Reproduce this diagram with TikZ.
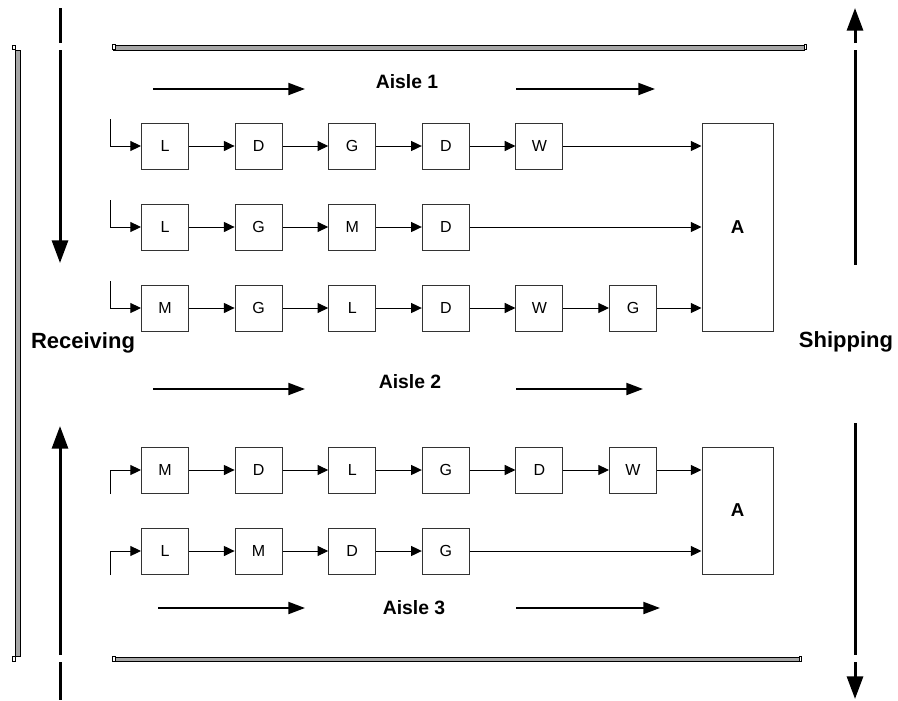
\documentclass[tikz,border=0pt]{standalone}
\usepackage{fontspec}
\setmainfont{Liberation Sans}
\usetikzlibrary{arrows.meta, positioning}
\tikzset{
	station/.style={draw=black!80, line width=0.75pt, minimum width=35.25pt, minimum height=34.5pt, inner sep=0pt, font=\fontsize{12}{14}\selectfont},
	assembly/.style={station, minimum width=53.25pt, font=\bfseries\fontsize{14}{16}\selectfont},
	line/.style={draw, line width=0.75pt, -{Triangle[length=8pt, width=7.5pt]}},
	flow/.style={draw, line width=1.5pt, -{Triangle[length=12.5pt, width=9pt]}},
	dock/.style={draw, line width=2.25pt},
	docktip/.style={dock, -{Triangle[length=17pt, width=12pt]}},
	wall/.style={draw, fill=black!35, line width=0.6pt},
	wallend/.style={draw, fill=white, line width=0.5pt},
	aisle/.style={font=\bfseries\fontsize{14.5}{17}\selectfont},
	dockname/.style={anchor=base, font=\bfseries\fontsize{16.5}{19}\selectfont}
}

\begin{document}
\begin{tikzpicture}[x=0.75pt, y=-0.75pt]
	\useasboundingbox (0,0) rectangle (898,700);
	
	% Walls
	\draw[wall] (113,45) rectangle (804,50);
	\draw[wallend] (112,44.5) rectangle (115,49.5);
	\draw[wallend] (804,44.5) rectangle (806.5,49.5);
	\draw[wall] (113,657) rectangle (799,661);
	\draw[wallend] (112,656.5) rectangle (115,661);
	\draw[wallend] (799,656.5) rectangle (801.5,661);
	\draw[wall] (15,50) rectangle (20,656);
	\draw[wallend] (12.5,45) rectangle (15,49.5);
	\draw[wallend] (12.5,656.5) rectangle (15,661);
	
	% Receiving and shipping
	\node[dockname] (recv) at (83,348) {Receiving};
	\node[dockname] (ship) at (846,347) {Shipping};
	\draw[dock] (60,8) -- (60,43);
	\draw[docktip] (60,50) -- (60,263);
	\draw[docktip] (60,655) -- (60,426);
	\draw[dock] (60,662) -- (60,700);
	\draw[docktip] (855,43) -- (855,8);
	\draw[dock] (855,50) -- (855,265);
	\draw[dock] (855,423) -- (855,655);
	\draw[docktip] (855,662) -- (855,699);
	
	% Aisle labels and flow
	\node[aisle] (aisle1) at (407,82) {Aisle 1};
	\node[aisle] (aisle2) at (410,382) {Aisle 2};
	\node[aisle] (aisle3) at (414,608) {Aisle 3};
	\draw[flow] (153,89) -- (305,89);
	\draw[flow] (516,89) -- (655,89);
	\draw[flow] (153,389) -- (305,389);
	\draw[flow] (516,389) -- (643,389);
	\draw[flow] (158,608) -- (305,608);
	\draw[flow] (516,608) -- (660,608);
	
	% Assembly
	\node[assembly, minimum height=156pt, text depth=-10pt] (A-1) at (737.5,227) {A};
	\node[assembly, minimum height=95.25pt, text depth=-8pt] (A-2) at (737.5,510.5) {A};
	
	% Stations
	\foreach \s [count=\i] in {L,D,G,D,W}
	\node[station] (R1-\i) at ({165+93.6*(\i-1)},146) {\s};
	\foreach \s [count=\i] in {L,G,M,D}
	\node[station] (R2-\i) at ({165+93.6*(\i-1)},227) {\s};
	\foreach \s [count=\i] in {M,G,L,D,W,G}
	\node[station] (R3-\i) at ({165+93.6*(\i-1)},308) {\s};
	\foreach \s [count=\i] in {M,D,L,G,D,W}
	\node[station] (R4-\i) at ({165+93.6*(\i-1)},470) {\s};
	\foreach \s [count=\i] in {L,M,D,G}
	\node[station] (R5-\i) at ({165+93.6*(\i-1)},551) {\s};
	
	% Entries
	\coordinate (E-1) at (110,119);
	\coordinate (E-2) at (110,200);
	\coordinate (E-3) at (110,281);
	\coordinate (E-4) at (110,494);
	\coordinate (E-5) at (110,575);
	\foreach \r in {1,...,5}
	\draw[line] (E-\r) |- (R\r-1);
	
	% Connections
	\foreach \i [count=\j from 2] in {1,...,4}
	\draw[line] (R1-\i) -- (R1-\j);
	\foreach \i [count=\j from 2] in {1,...,3}
	\draw[line] (R2-\i) -- (R2-\j);
	\foreach \i [count=\j from 2] in {1,...,5}
	\draw[line] (R3-\i) -- (R3-\j);
	\foreach \i [count=\j from 2] in {1,...,5}
	\draw[line] (R4-\i) -- (R4-\j);
	\foreach \i [count=\j from 2] in {1,...,3}
	\draw[line] (R5-\i) -- (R5-\j);
	\draw[line] (R1-5) -- (R1-5 -| A-1.west);
	\draw[line] (R2-4) -- (R2-4 -| A-1.west);
	\draw[line] (R3-6) -- (R3-6 -| A-1.west);
	\draw[line] (R4-6) -- (R4-6 -| A-2.west);
	\draw[line] (R5-4) -- (R5-4 -| A-2.west);
\end{tikzpicture}
\end{document}
